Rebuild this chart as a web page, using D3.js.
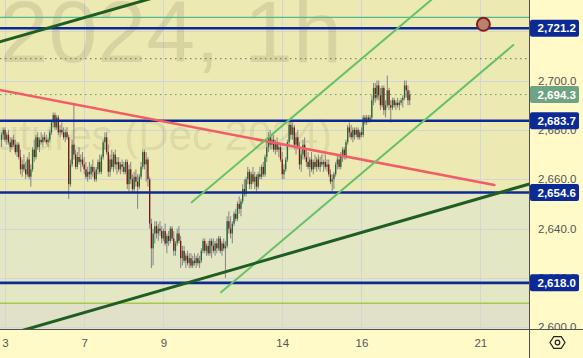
<!DOCTYPE html>
<html><head><meta charset="utf-8">
<script src="https://cdn.jsdelivr.net/npm/d3@7"></script>
<style>html,body{margin:0;padding:0;background:#fffac8;overflow:hidden}svg{display:block}</style>
</head><body><svg id="c" width="583" height="358"></svg>
<script>
// ---- data (Gold futures Dec 2024, 1h) ----
const opens=[2676,2678,2680,2676,2678,2675,2673,2676,2674,2671,
2674,2669,2664,2666,2664,2662,2668,2661,2664,2672,
2669,2677,2673,2676,2675,2677,2676,2675,2676,2679,
2683,2686,2681,2685,2679,2680,2679,2677,2679,2677,
2658,2666,2674,2670,2665,2669,2667,2668,2666,2664,
2661,2663,2662,2665,2663,2660,2664,2667,2663,2669,
2675,2677,2671,2663,2668,2665,2670,2666,2667,2664,
2666,2665,2663,2667,2658,2664,2660,2656,2661,2659,
2657,2661,2665,2671,2666,2668,2660,2642,2632,2638,
2641,2638,2640,2639,2636,2639,2634,2637,2635,2640,
2636,2631,2634,2638,2635,2628,2631,2627,2629,2626,
2628,2625,2627,2626,2628,2626,2627,2631,2635,2631,
2633,2630,2635,2633,2631,2634,2632,2636,2631,2634,
2632,2633,2643,2640,2638,2642,2646,2644,2650,2648,
2651,2656,2654,2660,2663,2658,2662,2659,2661,2657,
2662,2661,2665,2662,2669,2673,2677,2674,2676,2672,
2675,2672,2673,2668,2662,2664,2668,2675,2682,2678,
2681,2674,2677,2673,2666,2670,2674,2669,2667,2665,
2668,2664,2667,2665,2668,2665,2667,2666,2667,2665,
2666,2662,2659,2660,2662,2666,2668,2665,2670,2672,
2669,2675,2681,2679,2677,2680,2678,2680,2677,2679,
2678,2685,2683,2685,2684,2685,2692,2697,2693,2698,
2694,2690,2697,2688,2690,2696,2690,2689,2692,2690,
2691,2690,2691,2692,2693,2698,2696,2692];
const highs=[2679,2681,2681,2679,2680,2677,2677,2678,2676,2675,
2675,2672,2668,2670,2667,2669,2671,2666,2673,2676,
2678,2679,2677,2679,2678,2679,2678,2677,2680,2684,
2687,2687,2686,2686,2682,2683,2681,2680,2681,2678,
2668,2676,2691,2672,2671,2673,2670,2671,2669,2667,
2665,2667,2666,2668,2665,2665,2668,2670,2670,2676,
2679,2679,2674,2670,2672,2671,2672,2669,2669,2667,
2668,2667,2668,2668,2666,2667,2662,2663,2664,2662,
2662,2667,2672,2672,2671,2669,2661,2644,2640,2643,
2643,2642,2643,2641,2640,2642,2638,2639,2641,2641,
2639,2635,2640,2641,2637,2633,2633,2630,2631,2630,
2630,2629,2630,2629,2630,2629,2632,2636,2636,2634,
2635,2636,2636,2636,2635,2636,2637,2637,2635,2636,
2635,2645,2647,2645,2643,2647,2648,2651,2653,2652,
2658,2660,2661,2665,2664,2663,2665,2663,2662,2663,
2665,2666,2667,2670,2675,2679,2680,2678,2678,2676,
2677,2675,2674,2671,2666,2669,2676,2684,2684,2683,
2682,2679,2680,2675,2672,2676,2677,2672,2671,2669,
2671,2668,2670,2669,2670,2669,2670,2668,2670,2668,
2668,2664,2662,2663,2667,2670,2670,2671,2673,2673,
2676,2682,2683,2682,2681,2681,2681,2681,2680,2681,
2686,2686,2686,2686,2686,2694,2699,2699,2700,2700,
2697,2698,2698,2692,2702,2697,2692,2693,2693,2692,
2693,2692,2693,2694,2700,2700,2698,2696];
const lows=[2673,2676,2675,2674,2674,2671,2672,2673,2670,2669,
2668,2662,2661,2663,2660,2661,2660,2657,2663,2667,
2668,2672,2671,2674,2673,2675,2674,2673,2675,2678,
2681,2680,2680,2678,2677,2678,2676,2675,2676,2652,
2657,2665,2668,2664,2664,2666,2663,2665,2662,2660,
2659,2660,2660,2661,2659,2659,2662,2662,2662,2668,
2672,2670,2661,2661,2664,2663,2664,2662,2663,2662,
2663,2662,2662,2656,2655,2658,2655,2655,2657,2648,
2656,2660,2664,2664,2659,2657,2640,2624,2625,2634,
2636,2635,2637,2634,2635,2633,2630,2633,2634,2635,
2629,2629,2633,2634,2624,2625,2626,2624,2625,2624,
2624,2624,2625,2624,2625,2624,2626,2630,2630,2629,
2629,2629,2628,2630,2629,2630,2631,2630,2629,2631,
2620,2632,2638,2636,2634,2641,2643,2643,2646,2645,
2650,2653,2653,2658,2656,2656,2658,2656,2655,2656,
2660,2660,2661,2661,2667,2671,2672,2672,2671,2670,
2671,2669,2667,2660,2660,2663,2667,2674,2676,2676,
2672,2670,2672,2664,2663,2668,2668,2665,2664,2661,
2663,2662,2664,2663,2664,2663,2665,2663,2664,2663,
2661,2658,2655,2656,2661,2664,2664,2664,2667,2668,
2668,2674,2677,2676,2675,2676,2677,2676,2676,2677,
2677,2682,2682,2683,2683,2684,2690,2691,2692,2692,
2688,2689,2686,2685,2689,2688,2683,2688,2689,2688,
2689,2688,2690,2689,2692,2693,2690,2690];
const closes=[2678,2680,2676,2678,2675,2673,2676,2674,2671,2674,
2669,2664,2666,2664,2662,2668,2661,2664,2672,2669,
2677,2673,2676,2675,2677,2676,2675,2676,2679,2683,
2686,2681,2685,2679,2680,2679,2677,2679,2677,2658,
2666,2674,2670,2665,2669,2667,2668,2666,2664,2661,
2663,2662,2665,2663,2660,2664,2667,2663,2669,2675,
2677,2671,2663,2668,2665,2670,2666,2667,2664,2666,
2665,2663,2667,2658,2664,2660,2656,2661,2659,2657,
2661,2665,2671,2666,2668,2660,2642,2632,2638,2641,
2638,2640,2639,2636,2639,2634,2637,2635,2640,2636,
2631,2634,2638,2635,2628,2631,2627,2629,2626,2628,
2625,2627,2626,2628,2626,2627,2631,2635,2631,2633,
2630,2635,2633,2631,2634,2632,2636,2631,2634,2632,
2633,2643,2640,2638,2642,2646,2644,2650,2648,2651,
2656,2654,2660,2663,2658,2662,2659,2661,2657,2662,
2661,2665,2662,2669,2673,2677,2674,2676,2672,2675,
2672,2673,2668,2662,2664,2668,2675,2682,2678,2681,
2674,2677,2673,2666,2670,2674,2669,2667,2665,2668,
2664,2667,2665,2668,2665,2667,2666,2667,2665,2666,
2662,2659,2660,2662,2666,2668,2665,2670,2672,2669,
2675,2681,2679,2677,2680,2678,2680,2677,2679,2678,
2685,2683,2685,2684,2685,2692,2697,2693,2698,2694,
2690,2697,2688,2690,2696,2690,2689,2692,2690,2691,
2690,2691,2692,2693,2698,2696,2692,2694.3];

const dayLabels=["3","7","9","14","16","21"];
const dayTickIdx=[2,48,94,163,209,278];
const gridPrices=[2600,2620,2640,2660,2680,2700,2720];
const priceLabels=[2600,2620,2640,2660,2680,2700];
const levelPrices=[2721.2,2683.7,2654.6,2618.0];
const lastPrice=2694.3;
const zoneEdges=[2654.6,2609.72];
const tealLevel=2725.61, greyDotLevel=2708.83, limeLevel=2609.72;
const darkChannel=[[[-6.7,2714.56],[115.24,2738.9]],[[-6.7,2594.94],[312.7,2659.32]]];
const redLine=[[-3.98,2696.56],[286.15,2657.66]];
const lightChannel=[[[110.42,2650.65],[256.3,2736.67]],[[127.44,2614.18],[297.18,2714.38]]];
const marker=[279.8,2722.77];

// ---- layout ----
const W=583,H=358,PW=529,PH=329;
const FONT='"Liberation Sans", Arial, sans-serif';
const svg=d3.select("#c");
const x=d3.scaleLinear().domain([2,278]).range([5,480.3]);
const y=d3.scaleLinear().domain([2599.31,2732.62]).range([PH,0]);

svg.append("rect").attr("width",W).attr("height",H).attr("fill","#fffac8");
const defs=svg.append("defs");
defs.append("clipPath").attr("id","pc").append("rect").attr("width",PW).attr("height",PH);
defs.append("clipPath").attr("id","ac").append("rect").attr("x",PW).attr("width",W-PW).attr("height",PH);

const plot=svg.append("g").attr("clip-path","url(#pc)");
// background zones
const yTop=y.domain()[1], yBot=y.domain()[0];
const zones=[[yTop,zoneEdges[0],"#ece9b2"],[zoneEdges[0],zoneEdges[1],"#e4e7c4"],[zoneEdges[1],yBot,"#e1e0c8"]];
plot.selectAll("rect.z").data(zones).join("rect").attr("class","z")
 .attr("x",0).attr("width",PW).attr("y",d=>y(d[0])).attr("height",d=>y(d[1])-y(d[0])).attr("fill",d=>d[2]);

// grid
plot.selectAll("line.gh").data(gridPrices).join("line").attr("class","gh")
 .attr("x1",0).attr("x2",PW).attr("y1",d=>Math.round(y(d))+0.5).attr("y2",d=>Math.round(y(d))+0.5)
 .attr("stroke","#d3d6d6").attr("stroke-width",1);
plot.selectAll("line.gv").data(dayTickIdx).join("line").attr("class","gv")
 .attr("y1",0).attr("y2",PH).attr("x1",d=>Math.round(x(d))+0.5).attr("x2",d=>Math.round(x(d))+0.5)
 .attr("stroke","#d3d6d6").attr("stroke-width",1);

// watermark
plot.append("text").text("2024, 1h").attr("x",342).attr("y",62).attr("text-anchor","end")
 .attr("font-family",FONT).attr("font-size",88).attr("fill","rgba(0,0,0,0.085)");
plot.append("text").text("Gold Futures (Dec 2024)").attr("x",332).attr("y",150).attr("text-anchor","end")
 .attr("font-family",FONT).attr("font-size",42).attr("fill","rgba(0,0,0,0.085)");

// candles
const idx=d3.range(closes.length);
const cg=plot.append("g");
cg.selectAll("line.w").data(idx).join("line").attr("class","w")
 .attr("x1",i=>x(i)).attr("x2",i=>x(i)).attr("y1",i=>y(highs[i])).attr("y2",i=>y(lows[i]))
 .attr("stroke","#858585").attr("stroke-width",1);
cg.selectAll("rect.b").data(idx).join("rect").attr("class","b")
 .attr("x",i=>x(i)-0.65).attr("width",1.3)
 .attr("y",i=>y(Math.max(opens[i],closes[i])))
 .attr("height",i=>Math.max(1,Math.abs(y(opens[i])-y(closes[i]))))
 .attr("fill",i=>closes[i]>=opens[i]?"#1f6a35":"#7a1515");

// horizontal levels
function hline(v,color,w,dash){
  const l=plot.append("line").attr("x1",0).attr("x2",PW).attr("y1",y(v)).attr("y2",y(v))
   .attr("stroke",color).attr("stroke-width",w);
  if(dash) l.attr("stroke-dasharray",dash);
}
hline(tealLevel,"#4bbd8e",1.3);
hline(greyDotLevel,"#6e6e6e",1,"1.5,3.5");
hline(lastPrice,"#5e9e6c",1,"1.5,3.5");
hline(limeLevel,"#a6c94c",1.5);
levelPrices.forEach(v=>hline(v,"#0c2a96",2.6));

// trend lines
const seg=(p,color,w)=>plot.append("line").attr("x1",x(p[0][0])).attr("y1",y(p[0][1]))
 .attr("x2",x(p[1][0])).attr("y2",y(p[1][1])).attr("stroke",color).attr("stroke-width",w).attr("stroke-linecap","round");
seg(redLine,"#f25c68",2.6);
lightChannel.forEach(p=>seg(p,"#66c266",2));
darkChannel.forEach(p=>seg(p,"#1f5e22",3));

// marker
plot.append("circle").attr("cx",x(marker[0])).attr("cy",y(marker[1])).attr("r",6.5)
 .attr("fill","#b88270").attr("stroke","#8c1c1c").attr("stroke-width",2);

// ---- axes ----
const ya=svg.append("g").attr("clip-path","url(#ac)").append("g").attr("transform",`translate(${PW},0)`)
 .call(d3.axisRight(y).tickValues(priceLabels).tickFormat(d3.format(",.1f")).tickSize(0).tickPadding(9));
ya.select(".domain").remove();
ya.selectAll("text").attr("font-family",FONT).attr("font-size",11.5).attr("fill","#555");

const xa=svg.append("g").attr("transform",`translate(0,${PH})`)
 .call(d3.axisBottom(x).tickValues(dayTickIdx).tickFormat((d,i)=>dayLabels[i]).tickSize(0).tickPadding(10));
xa.select(".domain").remove();
xa.selectAll("text").attr("font-family",FONT).attr("font-size",11.5).attr("fill","#555");

// price boxes
function box(v,fill){
  const g=svg.append("g").attr("transform",`translate(${PW+1},${y(v)})`);
  g.append("rect").attr("x",0).attr("y",-8.5).attr("width",49).attr("height",17).attr("rx",2).attr("fill",fill);
  g.append("text").text(d3.format(",.1f")(v)).attr("x",7.5).attr("dy","0.36em")
   .attr("font-family",FONT).attr("font-size",11.5).attr("font-weight","bold").attr("fill","#fff");
}
levelPrices.forEach(v=>box(v,"#0c2a96"));
box(lastPrice,"#6fa383");

// borders
svg.append("line").attr("x1",PW+0.5).attr("x2",PW+0.5).attr("y1",0).attr("y2",H).attr("stroke","#505050");
svg.append("line").attr("x1",0).attr("x2",W).attr("y1",PH+0.5).attr("y2",PH+0.5).attr("stroke","#505050");

// settings icon
const cx=557.5, cy=342.5;
const hex=[[-7.5,0],[-3.75,-5.8],[3.75,-5.8],[7.5,0],[3.75,5.8],[-3.75,5.8]];
svg.append("path").attr("d",d3.line()(hex.map(p=>[cx+p[0],cy+p[1]]))+"Z")
 .attr("fill","none").attr("stroke","#222").attr("stroke-width",1.2);
svg.append("circle").attr("cx",cx).attr("cy",cy).attr("r",2.3).attr("fill","none").attr("stroke","#222").attr("stroke-width",1.2);
</script></body></html>
